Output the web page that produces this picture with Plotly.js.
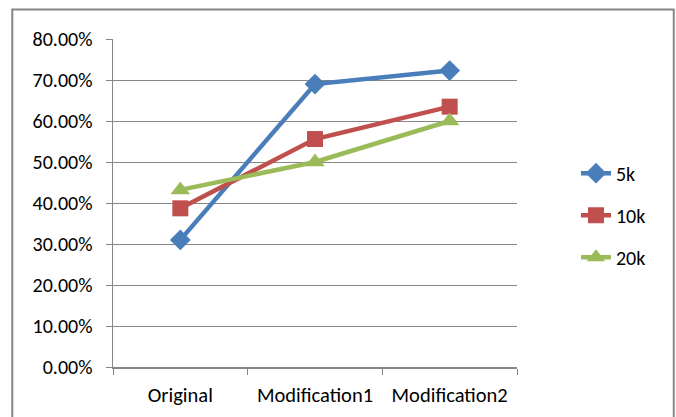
<!DOCTYPE html>
<html>
<head>
<meta charset="utf-8">
<script src="https://cdn.plot.ly/plotly-3.0.1.min.js"></script>
<style>html,body{margin:0;padding:0;background:#fff;}#chart{width:676px;height:417px;}</style>
</head>
<body>
<div id="chart"></div>
<script>
const categories = ["Original", "Modification1", "Modification2"];
const seriesNames = ["5k", "10k", "20k"];
const values5k = [0.31, 0.69, 0.723];
const values10k = [0.387, 0.556, 0.635];
const values20k = [0.432, 0.50, 0.60];
const yTickValues = [0, 0.1, 0.2, 0.3, 0.4, 0.5, 0.6, 0.7, 0.8];

const colors = ["#4A7EBB", "#C0504D", "#9BBB59"];
const symbols = ["diamond", "square", "triangle-up"];
const sizes = [16, 16, 17];
const allValues = [values5k, values10k, values20k];

const FONT = "Calibri, Carlito, Lato, 'Open Sans', sans-serif";

const traces = allValues.map((vals, i) => ({
  x: categories,
  y: vals,
  name: seriesNames[i],
  type: "scatter",
  mode: "lines+markers",
  legendgroup: "g" + i,
  line: {color: colors[i], width: 4.5},
  marker: {color: colors[i], symbol: symbols[i], size: sizes[i], line: {width: 0}},
  hoverinfo: "skip"
}));

const layout = {
  width: 676,
  height: 417,
  margin: {l: 113, r: 159, t: 39, b: 50},
  paper_bgcolor: "#ffffff",
  plot_bgcolor: "#ffffff",
  font: {family: FONT, size: 20, color: "#000000"},
  showlegend: true,
  legend: {
    x: 1.146, xanchor: "left",
    y: 0.463, yanchor: "middle",
    traceorder: "grouped",
    tracegroupgap: 13,
    font: {family: FONT, size: 20, color: "#000000"},
    bgcolor: "rgba(0,0,0,0)"
  },
  xaxis: {
    type: "category",
    range: [-0.5, 2.5],
    tickson: "boundaries",
    ticks: "outside",
    ticklen: 6,
    tickcolor: "#868686",
    showline: true,
    linecolor: "#868686",
    linewidth: 1.5,
    showgrid: false,
    zeroline: false,
    ticklabelstandoff: 9,
    tickfont: {family: FONT, size: 20.5, color: "#000000"},
    fixedrange: true
  },
  yaxis: {
    range: [0, 0.8],
    tickvals: yTickValues,
    tickformat: ".2%",
    ticks: "outside",
    ticklen: 6,
    tickcolor: "#868686",
    showline: true,
    linecolor: "#868686",
    linewidth: 1.5,
    showgrid: true,
    gridcolor: "#868686",
    gridwidth: 1,
    zeroline: false,
    ticklabelstandoff: 9,
    tickfont: {family: FONT, size: 20, color: "#000000"},
    fixedrange: true
  },
  shapes: [{
    type: "rect", xref: "paper", yref: "paper",
    x0: -0.2493, x1: 1.388, y0: -0.17, y1: 1.090,
    line: {color: "#868686", width: 2},
    fillcolor: "rgba(0,0,0,0)",
    layer: "below"
  }]
};

Plotly.newPlot("chart", traces, layout, {displayModeBar: false, staticPlot: true});
</script>
</body>
</html>
